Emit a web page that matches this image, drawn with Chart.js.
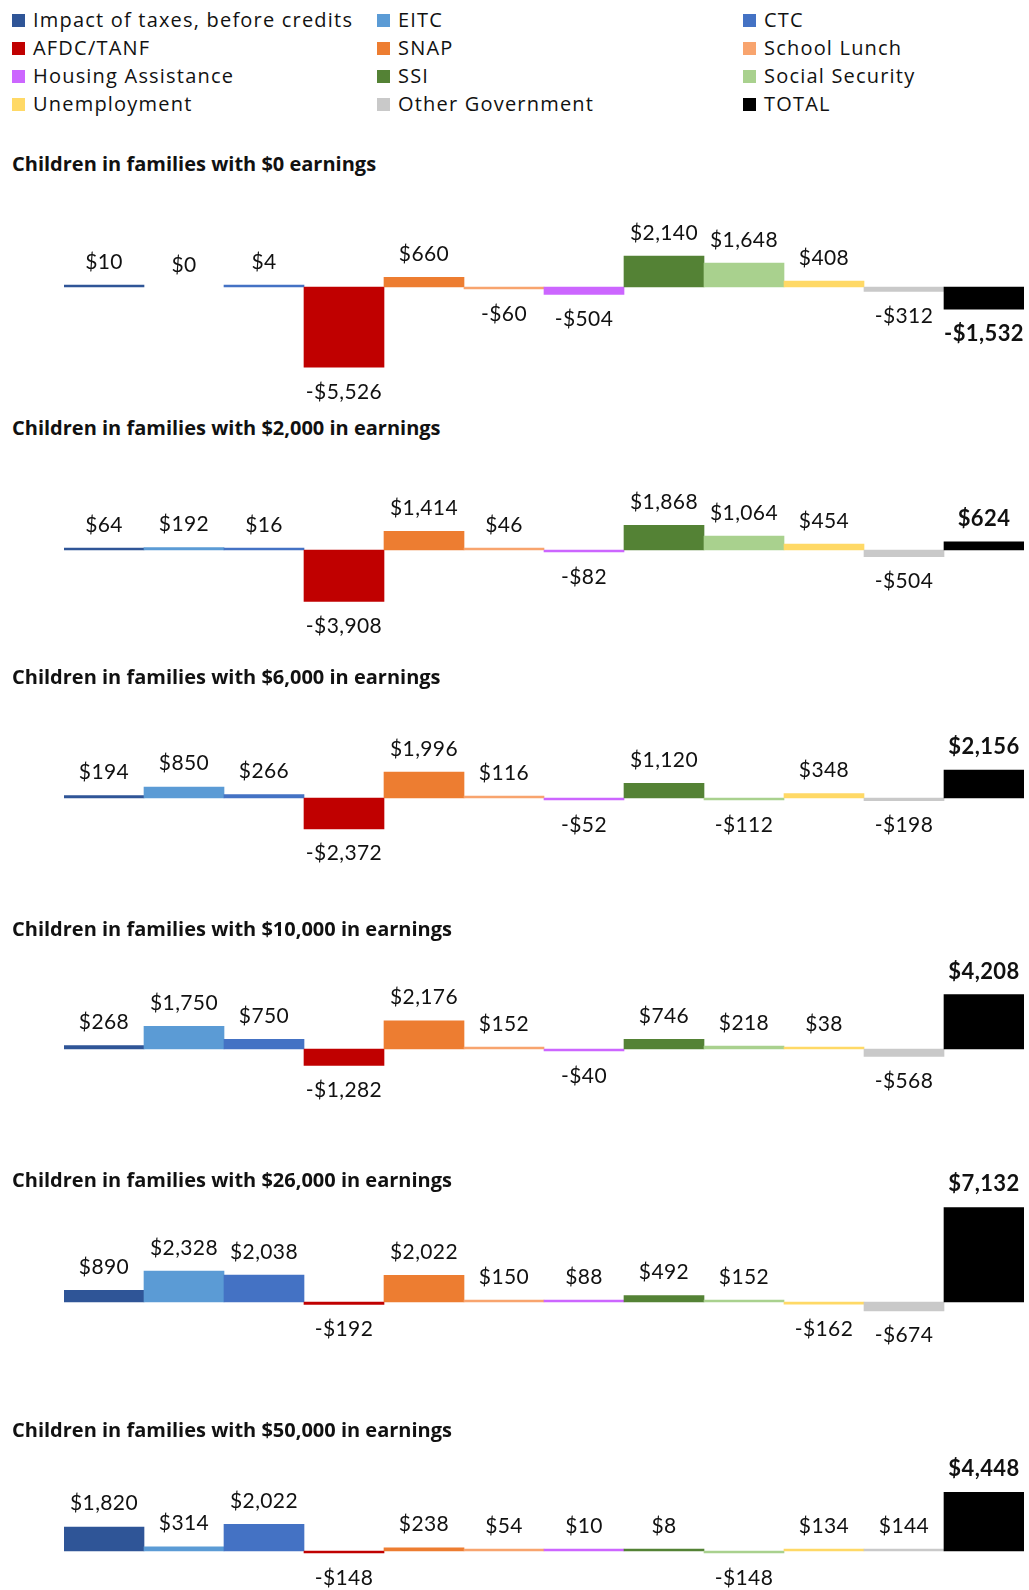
<!DOCTYPE html>
<html lang="en">
<head>
<meta charset="UTF-8">
<title>Impact of taxes and transfers on children</title>
<style>
  body { margin: 0; background: #fff; }
  #page { position: relative; width: 1029px; height: 1590px; overflow: hidden; }
  .swatch { position: absolute; width: 13px; height: 13px; }
  .legend-text { position: absolute; font-family: "Open Sans", sans-serif; font-size: 20px; letter-spacing: 1.2px; line-height: 1; color: #111; white-space: nowrap; }
  .panel-title { position: absolute; left: 12px; font-family: "Open Sans", sans-serif; font-weight: bold; font-size: 20px; line-height: 1; color: #111; white-space: nowrap; }
  .panel { position: absolute; left: 0; width: 1029px; height: 270px; }
</style>
</head>
<body>
<div id="page"></div>

<script src="https://cdn.jsdelivr.net/npm/chart.js"></script>
<script>
    // categories and colours
    const categories = ['Impact of taxes, before credits', 'EITC', 'CTC', 'AFDC/TANF', 'SNAP', 'School Lunch',
        'Housing Assistance', 'SSI', 'Social Security', 'Unemployment', 'Other Government', 'TOTAL'];
    const barColors = ['#2F5597', '#5B9BD5', '#4472C4', '#C00000', '#ED7D31', '#F8A46E',
        '#CC66FF', '#548235', '#A9D18E', '#FFD966', '#C9C9C9', '#000000'];

    // values, one array per earnings level
    const earnings0 = [10, 0, 4, -5526, 660, -60, -504, 2140, 1648, 408, -312, -1532];
    const earnings2000 = [64, 192, 16, -3908, 1414, 46, -82, 1868, 1064, 454, -504, 624];
    const earnings6000 = [194, 850, 266, -2372, 1996, 116, -52, 1120, -112, 348, -198, 2156];
    const earnings10000 = [268, 1750, 750, -1282, 2176, 152, -40, 746, 218, 38, -568, 4208];
    const earnings26000 = [890, 2328, 2038, -192, 2022, 150, 88, 492, 152, -162, -674, 7132];
    const earnings50000 = [1820, 314, 2022, -148, 238, 54, 10, 8, -148, 134, 144, 4448];

    const panelTitles = ['Children in families with $0 earnings',
        'Children in families with $2,000 in earnings',
        'Children in families with $6,000 in earnings',
        'Children in families with $10,000 in earnings',
        'Children in families with $26,000 in earnings',
        'Children in families with $50,000 in earnings'];
    const panelValues = [earnings0, earnings2000, earnings6000, earnings10000, earnings26000, earnings50000];

    // layout (pixels)
    const titleY = [164.5, 429, 678, 930, 1180.5, 1430.5];
    const zeroY = [287, 549.5, 798, 1049, 1302, 1551];
    const unitsPerPx = [69, 76, 77, 77.5, 75.5, 75.7];
    const panelAbove = 150, panelHeight = 270;
    const legendCols = [12, 377, 743];
    const legendRows = [20.5, 48.5, 76.5, 104.5];

    const page = document.getElementById('page');

    function fmt(v) {
        let s = '$' + Math.abs(v).toLocaleString('en-US');
        return v < 0 ? '-' + s : s;
    }

    function buildLegend() {
        categories.forEach((name, i) => {
            let x = legendCols[i % 3];
            let y = legendRows[Math.floor(i / 3)];
            let box = document.createElement('div');
            box.className = 'swatch';
            box.style.left = x + 'px';
            box.style.top = (y - 6.5) + 'px';
            box.style.background = barColors[i];
            page.appendChild(box);
            let text = document.createElement('div');
            text.className = 'legend-text';
            text.style.left = (x + 21) + 'px';
            text.style.top = (y - 10.6) + 'px';
            text.textContent = name;
            page.appendChild(text);
        });
    }

    const valueLabels = {
        id: 'valueLabels',
        afterDatasetsDraw(chart) {
            let ctx = chart.ctx;
            let values = chart.data.datasets[0].data;
            let meta = chart.getDatasetMeta(0);
            ctx.save();
            ctx.textAlign = 'center';
            ctx.textBaseline = 'alphabetic';
            ctx.fillStyle = '#111';
            meta.data.forEach((bar, i) => {
                let v = values[i];
                let isTotal = i === values.length - 1;
                let size = isTotal ? 22 : 21;
                ctx.font = (isTotal ? 'bold ' : '') + size + 'px Lato';
                ctx.letterSpacing = '0.4px';
                let half = size * 0.358;
                let y = v < 0 ? bar.y + 24 + half : bar.y - 24 + half;
                ctx.fillText(fmt(v), bar.x, y);
            });
            ctx.restore();
        }
    };

    function buildPanel(p) {
        let title = document.createElement('div');
        title.className = 'panel-title';
        title.style.top = (titleY[p] - 10.6) + 'px';
        title.textContent = panelTitles[p];
        page.appendChild(title);

        let box = document.createElement('div');
        box.className = 'panel';
        box.style.top = (zeroY[p] - panelAbove) + 'px';
        let canvas = document.createElement('canvas');
        box.appendChild(canvas);
        page.appendChild(box);

        let values = panelValues[p];
        new Chart(canvas.getContext('2d'), {
            type: 'bar',
            data: {
                labels: categories,
                datasets: [{
                    data: values,
                    backgroundColor: values.map((v, i) => v === 0 ? 'rgba(0,0,0,0)' : barColors[i]),
                    borderWidth: 0,
                    minBarLength: 2,
                    barPercentage: 1,
                    categoryPercentage: 1,
                }],
            },
            options: {
                responsive: true,
                maintainAspectRatio: false,
                animation: false,
                events: [],
                layout: {padding: {left: 64, right: 5, top: 0, bottom: 0}},
                plugins: {legend: {display: false}, tooltip: {enabled: false}},
                scales: {
                    x: {display: false},
                    y: {
                        display: false,
                        min: -(panelHeight - panelAbove) * unitsPerPx[p],
                        max: panelAbove * unitsPerPx[p],
                    },
                },
            },
            plugins: [valueLabels],
        });
    }

    function init() {
        buildLegend();
        for (let p = 0; p < panelValues.length; p++) {
            buildPanel(p);
        }
    }

    document.fonts.ready.then(init);
</script>
</body>
</html>
